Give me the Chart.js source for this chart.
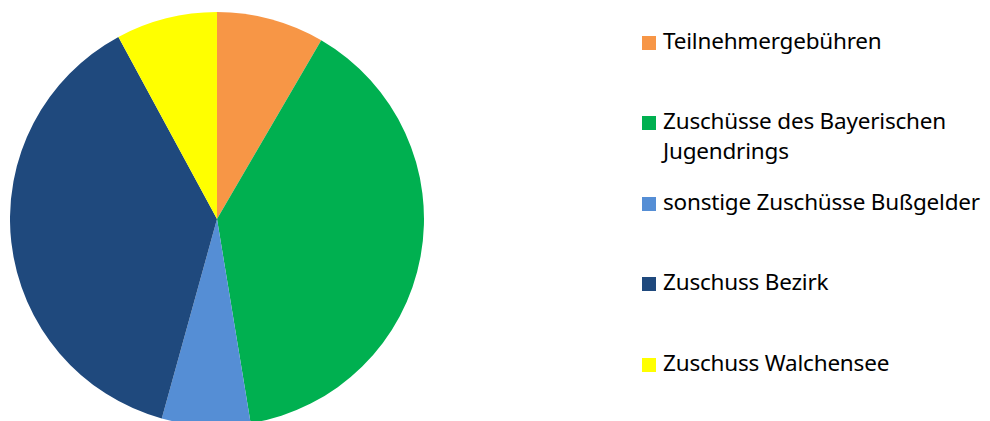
<!DOCTYPE html>
<html>
<head>
<meta charset="utf-8">
<script src="https://cdn.jsdelivr.net/npm/chart.js@4"></script>
<style>
  html, body { margin: 0; padding: 0; background: #fff; overflow: hidden; }
  body { width: 990px; height: 421px; position: relative; }
  #pieBox { position: absolute; left: 10px; top: 12px; width: 414px; height: 414px; }
  #legend { position: absolute; left: 642px; top: 0; width: 345px; font-family: "Noto Sans", "Open Sans", sans-serif; font-size: 22.5px; letter-spacing: -0.2px; line-height: 30px; color: #000; }
  .item { position: absolute; left: 0; width: 360px; padding-left: 21px; box-sizing: border-box; }
  .swatch { position: absolute; left: 0; top: 10px; width: 14px; height: 14px; }
</style>
</head>
<body>
<div id="pieBox"><canvas id="myChart"></canvas></div>
<div id="legend"></div>
<script>
// Anteile in Prozent
var categories = ['Teilnehmergebühren', 'Zuschüsse des Bayerischen Jugendrings', 'sonstige Zuschüsse Bußgelder', 'Zuschuss Bezirk', 'Zuschuss Walchensee'];
var shares = [8.4, 39.0, 6.9, 37.8, 7.9];
var colors = ['#F79646', '#00B050', '#558ED5', '#1F497D', '#FFFF00'];

const ctx = document.getElementById('myChart').getContext('2d');
const chart = new Chart(ctx, {
  type: 'pie',
  data: {
    labels: categories,
    datasets: [{
      data: shares,
      backgroundColor: colors,
      borderWidth: 0
    }]
  },
  options: {
    responsive: true,
    maintainAspectRatio: false,
    animation: false,
    layout: { padding: 0 },
    plugins: {
      legend: { display: false },
      tooltip: { enabled: false }
    }
  }
});

// legend rechts, eigene HTML-Liste
var legend = document.getElementById('legend');
categories.forEach(function (name, i) {
  var item = document.createElement('div');
  item.className = 'item';
  item.style.top = (26 + i * 80.4) + 'px';
  var sw = document.createElement('span');
  sw.className = 'swatch';
  sw.style.background = colors[i];
  item.appendChild(sw);
  item.appendChild(document.createTextNode(name));
  legend.appendChild(item);
});
</script>
</body>
</html>
